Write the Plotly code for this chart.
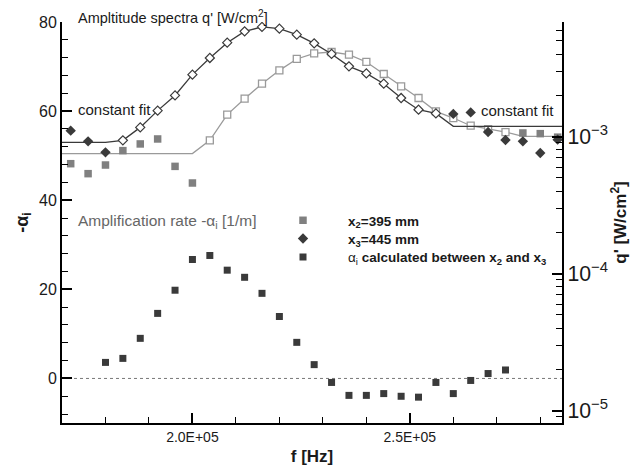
import plotly.graph_objects as go

# ---------------- data ----------------
# amplification rate -alpha_i [1/m] (left axis)
f_alpha = [180000, 184000, 188000, 192000, 196000, 200000, 204000, 208000, 212000,
           216000, 220000, 224000, 228000, 232000, 236000, 240000, 244000, 248000,
           252000, 256000, 260000, 264000, 268000, 272000]
alpha = [3.6, 4.5, 9.0, 14.6, 19.8, 26.7, 27.6, 24.3, 22.7,
         19.1, 13.9, 8.1, 3.1, -0.9, -3.8, -3.8, -3.4, -4.0,
         -4.2, -0.9, -3.4, -0.45, 1.1, 1.9]

# x3 = 445 mm : fitted spectrum (open diamonds) [W/cm^2]
f_x3_fit = [184000, 188000, 192000, 196000, 200000, 204000, 208000, 212000, 216000,
            220000, 224000, 228000, 232000, 236000, 240000, 244000, 248000, 252000, 256000]
q_x3_fit = [0.940e-3, 1.169e-3, 1.549e-3, 2.000e-3, 2.836e-3, 3.753e-3, 4.853e-3, 5.872e-3, 6.324e-3,
            6.140e-3, 5.555e-3, 4.798e-3, 4.018e-3, 3.260e-3, 2.897e-3, 2.436e-3, 1.915e-3, 1.573e-3, 1.479e-3]
# x3 constant fits (low / high frequency)
f_x3_const_lo = [170000, 180000]
q_x3_const_lo = [0.908e-3, 0.908e-3]
f_x3_const_hi = [260000, 285000]
q_x3_const_hi = [1.189e-3, 1.189e-3]
# x3 raw points outside the fitted band (filled diamonds)
f_x3_raw = [172000, 176000, 180000, 260000, 264000, 268000, 272000, 276000, 280000, 284000]
q_x3_raw = [1.106e-3, 0.924e-3, 0.768e-3, 1.466e-3, 1.504e-3, 1.081e-3, 0.946e-3, 0.924e-3, 0.760e-3, 0.951e-3]

# x2 = 395 mm : fitted spectrum (open squares)
f_x2_fit = [204000, 208000, 212000, 216000, 220000, 224000, 228000, 232000, 236000,
            240000, 244000, 248000, 252000, 256000, 260000, 264000, 268000, 272000]
q_x2_fit = [0.940e-3, 1.449e-3, 1.893e-3, 2.436e-3, 3.049e-3, 3.691e-3, 4.054e-3, 4.150e-3, 3.970e-3,
            3.511e-3, 2.868e-3, 2.330e-3, 1.915e-3, 1.531e-3, 1.368e-3, 1.202e-3, 1.134e-3, 1.081e-3]
f_x2_const_lo = [170000, 200000]
q_x2_const_lo = [0.752e-3, 0.752e-3]
f_x2_const_hi = [276000, 285000]
q_x2_const_hi = [1.005e-3, 1.005e-3]
f_x2_raw = [172000, 176000, 180000, 184000, 188000, 192000, 196000, 200000, 276000, 280000, 284000]
q_x2_raw = [0.635e-3, 0.537e-3, 0.621e-3, 0.791e-3, 0.885e-3, 0.962e-3, 0.607e-3, 0.459e-3,
            1.064e-3, 1.052e-3, 0.992e-3]

x_tick_alias = {"200000": "2.0E+05", "250000": "2.5E+05"}

# ---------------- styles ----------------
DARK = "#3a3a3a"
GRAY = "#808080"
LGRAY = "#9a9a9a"
TXT = "#1a1a1a"
FONT = "Liberation Sans, Arial, sans-serif"

fig = go.Figure()

# x2 curve (gray)
fig.add_trace(go.Scatter(
    x=f_x2_const_lo + f_x2_fit + f_x2_const_hi,
    y=q_x2_const_lo + q_x2_fit + q_x2_const_hi,
    mode="lines", line=dict(color=LGRAY, width=1.3), yaxis="y2", showlegend=False))
fig.add_trace(go.Scatter(
    x=f_x2_fit, y=q_x2_fit, mode="markers", yaxis="y2", showlegend=False,
    marker=dict(symbol="square", size=7, color="white", line=dict(color=LGRAY, width=1.3))))

# x3 curve (dark)
fig.add_trace(go.Scatter(
    x=f_x3_const_lo + f_x3_fit + f_x3_const_hi,
    y=q_x3_const_lo + q_x3_fit + q_x3_const_hi,
    mode="lines", line=dict(color=DARK, width=1.3), yaxis="y2", showlegend=False))
fig.add_trace(go.Scatter(
    x=f_x3_fit, y=q_x3_fit, mode="markers", yaxis="y2", showlegend=False,
    marker=dict(symbol="diamond", size=7, color="white", line=dict(color=DARK, width=1.2))))

# raw points (legend entries, one legend each)
fig.add_trace(go.Scatter(
    x=f_x2_raw, y=q_x2_raw, mode="markers", yaxis="y2", legend="legend",
    name="<b>x<sub>2</sub>=395 mm</b>",
    marker=dict(symbol="square", size=7.5, color=GRAY)))
fig.add_trace(go.Scatter(
    x=f_x3_raw, y=q_x3_raw, mode="markers", yaxis="y2", legend="legend2",
    name="<b>x<sub>3</sub>=445 mm</b>",
    marker=dict(symbol="diamond", size=8, color=DARK)))
fig.add_trace(go.Scatter(
    x=f_alpha, y=alpha, mode="markers", yaxis="y", legend="legend3",
    name="α<sub>i</sub> <b>calculated between x<sub>2</sub> and x<sub>3</sub></b>",
    marker=dict(symbol="square", size=7, color=DARK)))

fig.add_shape(type="line", xref="paper", yref="y", x0=0, x1=1, y0=0, y1=0,
              line=dict(color="#777777", width=1, dash="dot"), layer="below")

leg = dict(xanchor="left", yanchor="middle", bgcolor="rgba(0,0,0,0)",
           font=dict(size=13.5, color=TXT), itemwidth=80, borderwidth=0)

minor_common = dict(ticks="inside", ticklen=6, tickwidth=1.2, tickcolor="black")

fig.update_layout(
    width=640, height=469,
    margin=dict(l=62, r=78, t=22, b=46, autoexpand=False),
    paper_bgcolor="white", plot_bgcolor="white",
    font=dict(family=FONT, color=TXT, size=14),
    xaxis=dict(
        range=[170000, 285000], tickmode="linear", tick0=0, dtick=50000,
        tickformat="d", labelalias=x_tick_alias,
        ticks="inside", ticklen=10, tickwidth=1.5, tickcolor="black",
        minor=dict(dtick=10000, tick0=0, **minor_common),
        showline=True, linewidth=2, linecolor="black", mirror=False, automargin=False,
        showgrid=False, zeroline=False, tickfont=dict(size=14),
        title=dict(text="<b>f [Hz]</b>", font=dict(size=17), standoff=6),
    ),
    yaxis=dict(
        range=[-10, 80], tickmode="linear", tick0=0, dtick=20,
        ticks="inside", ticklen=10, tickwidth=1.5, tickcolor="black",
        minor=dict(dtick=4, tick0=0, **minor_common),
        showline=True, linewidth=2, linecolor="black", automargin=False,
        showgrid=False, zeroline=False, tickfont=dict(size=16),
        title=dict(text="<b>-α<sub>i</sub></b>", font=dict(size=18), standoff=6),
    ),
    yaxis2=dict(
        type="log", range=[-5.09, -2.163], overlaying="y", side="right",
        dtick=1, exponentformat="power", automargin=False,
        ticks="inside", ticklen=10, tickwidth=1.5, tickcolor="black",
        minor=dict(dtick="D1", **minor_common),
        showline=True, linewidth=2, linecolor="black",
        showgrid=False, zeroline=False, tickfont=dict(size=17),
        title=dict(text="<b>q' [W/cm<sup>2</sup>]</b>", font=dict(size=17), standoff=6),
    ),
    legend=dict(x=0.392, y=0.505, **leg),
    legend2=dict(x=0.392, y=0.4596, **leg),
    legend3=dict(x=0.392, y=0.4135, **leg),
    showlegend=True,
)

ann = dict(xref="paper", yref="paper", showarrow=False, xanchor="left", yanchor="middle",
           font=dict(size=14.5, color=TXT))
fig.add_annotation(text="Ampltitude spectra q' [W/cm<sup>2</sup>]", x=0.028, y=1.013, **ann)
ann_cf = dict(ann)
ann_cf["font"] = dict(size=15, color=TXT)
fig.add_annotation(text="constant fit", x=0.028, y=0.781, **ann_cf)
fig.add_annotation(text="constant fit", x=0.834, y=0.779, **ann_cf)
ann2 = dict(ann)
ann2["font"] = dict(size=15.5, color="#666666")
fig.add_annotation(text="Amplification rate -α<sub>i</sub> [1/m]", x=0.028, y=0.5015, **ann2)

fig.write_html("out.html")
